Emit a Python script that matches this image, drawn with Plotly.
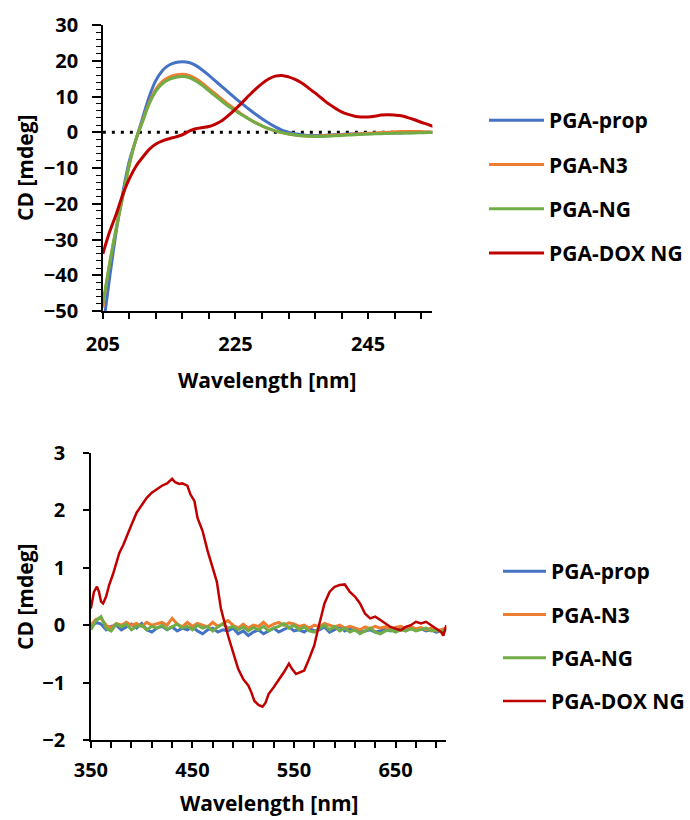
import plotly.graph_objects as go

# ---------- Top chart (far-UV) ----------
wl_top = [205, 206, 207, 208, 209, 210, 211, 212, 213, 214, 215, 216, 217, 218, 219, 220,
          221, 222, 223, 224, 225, 226, 227, 228, 229, 230, 231, 232, 233, 234, 235, 236,
          237, 238, 239, 240, 241, 242, 243, 244, 245, 246, 247, 248, 249, 250, 251, 252,
          253, 254, 255]
prop_top = [-55, -41, -28, -17, -8, -2, 4, 10, 14.5, 17.3, 18.8, 19.5, 19.7, 19.5, 18.7, 17.4,
            15.9, 14.3, 12.7, 11.1, 9.5, 8.0, 6.5, 5.1, 3.8, 2.6, 1.5, 0.6, 0.0, -0.4, -0.7, -0.9,
            -0.9, -0.9, -0.8, -0.7, -0.6, -0.5, -0.45, -0.4, -0.4, -0.35, -0.3, -0.25, -0.2, -0.2, -0.15, -0.1,
            -0.1, -0.1, -0.1]
n3_top = [-49, -37, -27, -18, -9, -2, 3.2, 8.3, 12, 14.2, 15.4, 16.0, 16.2, 15.9, 15.0, 13.7,
          12.2, 10.7, 9.2, 7.7, 6.4, 5.0, 3.8, 2.7, 1.8, 1.0, 0.4, -0.1, -0.5, -0.8, -1.0, -1.1,
          -1.1, -1.0, -0.9, -0.8, -0.7, -0.6, -0.5, -0.4, -0.3, -0.2, -0.1, 0.0, 0.1, 0.2, 0.2, 0.2,
          0.2, 0.1, 0.1]
ng_top = [-48, -37, -27, -18, -9, -2, 3, 8, 11.5, 13.6, 14.8, 15.4, 15.6, 15.3, 14.4, 13.1,
          11.6, 10.1, 8.6, 7.2, 6.0, 4.8, 3.7, 2.7, 1.8, 1.0, 0.4, -0.1, -0.5, -0.8, -1.0, -1.1,
          -1.2, -1.2, -1.1, -1.0, -0.9, -0.8, -0.7, -0.6, -0.5, -0.45, -0.4, -0.35, -0.3, -0.25, -0.2, -0.2,
          -0.15, -0.1, -0.1]
dox_top = [-34, -28, -23, -17.5, -13, -9.5, -7, -4.8, -3.3, -2.4, -1.8, -1.3, -0.7, 0.3, 1.0, 1.3,
           1.6, 2.3, 3.3, 4.8, 6.5, 8.3, 10.2, 12.0, 13.6, 14.9, 15.7, 15.9, 15.5, 14.8, 13.8, 12.4,
           11.0, 9.5, 8.0, 6.8, 5.7, 5.0, 4.5, 4.3, 4.3, 4.5, 4.8, 4.9, 4.8, 4.6, 4.1, 3.5,
           2.8, 2.2, 1.5]

# ---------- Bottom chart (visible) ----------
wl_bot = list(range(350, 701, 5))
prop_bot = [-0.05, 0.05, 0.02, -0.08, -0.02, 0.0, -0.08, -0.03, 0.02, -0.05,
            0.03, -0.08, -0.12, -0.05, -0.02, -0.08, -0.03, -0.1, -0.05, -0.08,
            -0.03, -0.1, -0.15, -0.08, -0.05, -0.12, -0.08, -0.1, -0.05, -0.15,
            -0.1, -0.18, -0.12, -0.08, -0.15, -0.1, -0.05, -0.12, -0.08, -0.03,
            -0.1, -0.08, -0.12, -0.05, -0.1, -0.08, -0.03, -0.12, -0.08, -0.02,
            -0.1, -0.05, -0.08, -0.12, -0.1, -0.08, -0.12, -0.1, -0.07, -0.1,
            -0.08, -0.06, -0.1, -0.05, -0.08, -0.06, -0.1, -0.08, -0.12, -0.1,
            -0.08]
n3_bot = [0.0, 0.1, 0.12, 0.0, -0.05, 0.03, 0.0, 0.05, 0.0, 0.03,
          -0.02, 0.05, 0.0, 0.03, 0.05, 0.0, 0.12, 0.02, -0.03, 0.05,
          -0.02, 0.03, 0.0, -0.03, 0.05, -0.02, 0.03, 0.08, 0.0, -0.05,
          0.02, -0.05, 0.0, -0.02, 0.05, -0.03, 0.02, 0.05, 0.0, 0.04,
          0.02, -0.02, 0.0, -0.05, 0.0, -0.03, 0.03, 0.0, -0.03, 0.0,
          -0.05, -0.02, -0.05, -0.08, -0.03, -0.06, -0.02, -0.05, -0.03, -0.07,
          -0.04, -0.02, -0.05, -0.03, -0.06, -0.04, -0.08, -0.05, -0.1, -0.08,
          -0.05]
ng_bot = [-0.08, 0.08, 0.15, -0.05, -0.1, 0.02, -0.03, 0.02, -0.08, -0.02,
          0.0, -0.08, -0.02, -0.05, 0.0, -0.07, -0.03, 0.02, -0.05, -0.02,
          -0.08, 0.0, -0.05, -0.02, -0.1, -0.03, 0.02, -0.05, -0.02, -0.08,
          -0.03, -0.1, -0.04, -0.08, -0.02, -0.1, -0.05, -0.02, 0.03, -0.05,
          0.0, -0.08, -0.03, -0.1, -0.12, -0.05, 0.0, -0.08, -0.02, -0.1,
          -0.05, -0.12, -0.08, -0.15, -0.1, -0.05, -0.12, -0.15, -0.1, -0.08,
          -0.12, -0.08, -0.1, -0.06, -0.1, -0.08, -0.05, -0.1, -0.08, -0.12,
          -0.06]
wl_dox_bot = [350, 353, 356, 358, 360, 362, 365, 368, 372, 375, 378, 382, 385, 390, 395, 400,
              405, 410, 415, 420, 425, 430, 433, 437, 440, 445, 448, 452, 455, 460, 465, 470,
              474, 478, 482, 485, 490, 495, 500, 505, 508, 511, 515, 519, 522, 525, 530, 535,
              540, 545, 548, 552, 556, 560, 565, 570, 573, 577, 580, 585, 590, 595, 600, 605,
              610, 615, 620, 625, 630, 635, 640, 645, 650, 655, 660, 665, 670, 675, 680, 685,
              690, 695, 697, 700]
dox_bot = [0.29, 0.58, 0.67, 0.58, 0.41, 0.38, 0.5, 0.7, 0.9, 1.1, 1.26, 1.4, 1.52, 1.75, 1.96, 2.1,
           2.22, 2.31, 2.37, 2.43, 2.47, 2.55, 2.49, 2.46, 2.47, 2.43, 2.28, 2.16, 1.87, 1.64, 1.29, 0.99,
           0.76, 0.29, 0.0, -0.18, -0.47, -0.76, -0.94, -1.05, -1.17, -1.32, -1.39, -1.42, -1.35, -1.2, -1.08, -0.96,
           -0.82, -0.67, -0.76, -0.85, -0.82, -0.79, -0.58, -0.35, -0.12, 0.18, 0.38, 0.58, 0.67, 0.7, 0.71, 0.58,
           0.5, 0.38, 0.2, 0.12, 0.15, 0.09, 0.03, -0.03, -0.06, -0.09, -0.03, 0.0, 0.06, 0.03, 0.06, 0.0,
           -0.06, -0.12, -0.18, 0.0]

names = ["PGA-prop", "PGA-N3", "PGA-NG", "PGA-DOX NG"]
colors = ["#4472C4", "#ED7D31", "#70AD47", "#C00000"]

FONT = "Open Sans"
fig = go.Figure()

# zero reference (dotted) on top chart
fig.add_trace(go.Scatter(x=[wl_top[0], wl_top[-1]], y=[0, 0], mode="lines",
                         line=dict(color="black", width=3, dash="3px,6px"),
                         showlegend=False, hoverinfo="skip", xaxis="x", yaxis="y"))

for name, col, ys in zip(names, colors, [prop_top, n3_top, ng_top, dox_top]):
    fig.add_trace(go.Scatter(x=wl_top, y=ys, name=name, mode="lines",
                             line=dict(color=col, width=3, shape="spline"),
                             xaxis="x", yaxis="y", legend="legend", legendgroup="t" + name))

for name, col, ys in zip(names[:3], colors[:3], [prop_bot, n3_bot, ng_bot]):
    fig.add_trace(go.Scatter(x=wl_bot, y=ys, name=name, mode="lines",
                             line=dict(color=col, width=3),
                             xaxis="x2", yaxis="y2", legend="legend2", legendgroup="b" + name))
fig.add_trace(go.Scatter(x=wl_dox_bot, y=dox_bot, name=names[3], mode="lines",
                         line=dict(color=colors[3], width=2.5),
                         xaxis="x2", yaxis="y2", legend="legend2", legendgroup="b" + names[3]))

W, H = 690, 820
def px(x):
    return x / W
def py(y):
    return 1 - y / H

tickfont = dict(family=FONT, size=20, color="black", weight="bold")
axis_common = dict(showline=True, linecolor="black", linewidth=1.5, showgrid=False,
                   zeroline=False, ticks="outside", tickcolor="black", tickwidth=1.5,
                   tickfont=tickfont, automargin=False)

legend_font = dict(family=FONT, size=21, color="black", weight="bold")
fig.update_layout(
    width=W, height=H, margin=dict(l=0, r=0, t=0, b=0),
    paper_bgcolor="white", plot_bgcolor="white",
    xaxis=dict(domain=[px(103), px(433)], range=[205, 254.7], anchor="y",
               tick0=205, dtick=20, ticklen=6, ticklabelstandoff=8,
               minor=dict(dtick=4, tick0=205, ticks="outside", ticklen=6, tickcolor="black", tickwidth=1.5),
               **axis_common),
    yaxis=dict(domain=[py(311), py(25)], range=[-50, 30], anchor="x",
               dtick=10, ticklen=9, ticklabelstandoff=10,
               minor=dict(dtick=2, ticks="outside", ticklen=5, tickcolor="black", tickwidth=1.2),
               **axis_common),
    xaxis2=dict(domain=[px(91), px(447)], range=[350, 700], anchor="y2",
                tick0=350, dtick=100, ticklen=6, ticklabelstandoff=5,
                minor=dict(dtick=20, tick0=350, ticks="outside", ticklen=6, tickcolor="black", tickwidth=1.5),
                **axis_common),
    yaxis2=dict(domain=[py(740), py(453)], range=[-2, 3], anchor="x2",
                dtick=1, ticklen=6, ticklabelstandoff=14, **axis_common),
    legend=dict(x=px(484), y=py(100), xanchor="left", yanchor="top",
                font=legend_font, itemwidth=55, tracegroupgap=14, traceorder="grouped",
                bgcolor="rgba(0,0,0,0)"),
    legend2=dict(x=px(499), y=py(551), xanchor="left", yanchor="top",
                 font=legend_font, itemwidth=43, tracegroupgap=13, traceorder="grouped",
                 bgcolor="rgba(0,0,0,0)"),
    showlegend=True,
)

title_font = dict(family=FONT, size=21, color="black", weight="bold")
for txt, x, y, ang in [("CD [mdeg]", 25, 168, -90), ("Wavelength [nm]", 268, 380, 0),
                       ("CD [mdeg]", 25, 597, -90), ("Wavelength [nm]", 270, 803, 0)]:
    fig.add_annotation(text=txt, x=px(x), y=py(y), xref="paper", yref="paper",
                       xanchor="center", yanchor="middle", textangle=ang,
                       showarrow=False, font=title_font)

fig.write_html("out.html")
